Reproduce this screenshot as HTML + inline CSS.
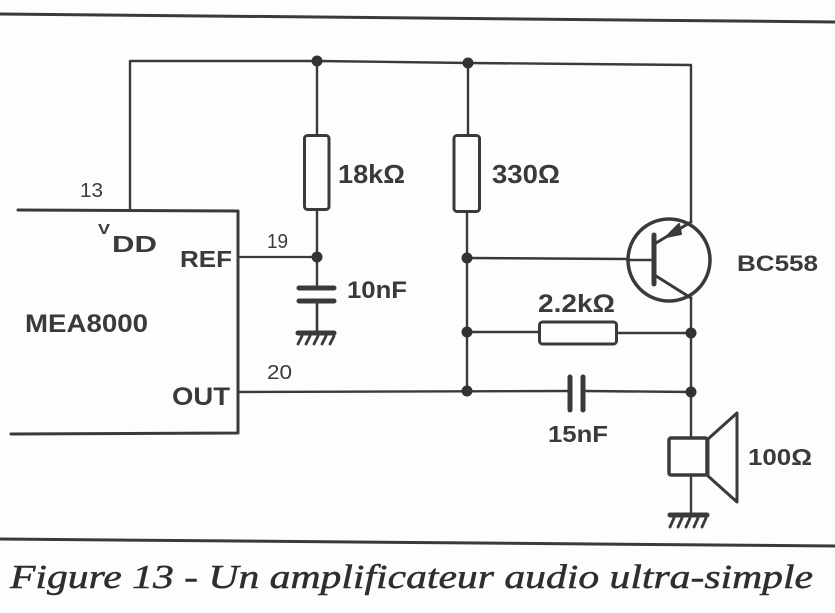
<!DOCTYPE html>
<html><head><meta charset="utf-8"><style>
html,body{margin:0;padding:0;background:#fdfdfc;}
svg{display:block;}
</style></head><body>
<svg width="835" height="613" viewBox="0 0 835 613" xmlns="http://www.w3.org/2000/svg">
<rect width="835" height="613" fill="#fdfdfc"/>
<g stroke="#3a3a3a" fill="none" stroke-linecap="round" stroke-linejoin="round">
<!-- borders -->
<line x1="0" y1="14" x2="835" y2="22" stroke-width="3"/>
<line x1="0" y1="539" x2="835" y2="546" stroke-width="3"/>
<!-- top rail -->
<polyline points="130,210 130,61 317,61 468,63 691,65 691,222" stroke-width="2.4"/>
<!-- IC -->
<polyline points="18,210 238,211 238,433 11,434" stroke-width="3"/>
<!-- 18k branch -->
<line x1="317" y1="61" x2="317" y2="135" stroke-width="2.4"/>
<rect x="304.5" y="135.5" width="24.5" height="74" rx="3" stroke-width="3"/>
<line x1="317" y1="210" x2="317" y2="288" stroke-width="2.4"/>
<line x1="238" y1="257" x2="317" y2="257" stroke-width="2.2"/>
<line x1="299" y1="288" x2="334" y2="288" stroke-width="5"/>
<line x1="299" y1="301" x2="334" y2="301" stroke-width="5"/>
<line x1="317" y1="301" x2="317" y2="333" stroke-width="2.6"/>
<line x1="298" y1="333" x2="334" y2="333" stroke-width="5"/>
<g stroke-width="2.8">
<line x1="302" y1="336" x2="298" y2="344"/><line x1="310" y1="336" x2="306" y2="344"/>
<line x1="318" y1="336" x2="314" y2="344"/><line x1="326" y1="336" x2="322" y2="344"/>
<line x1="334" y1="336" x2="330" y2="344"/>
</g>
<!-- 330 branch -->
<line x1="468" y1="63" x2="468" y2="135" stroke-width="2.4"/>
<rect x="454" y="135.5" width="25.5" height="76" rx="3" stroke-width="3"/>
<line x1="467" y1="212" x2="467" y2="391" stroke-width="2.4"/>
<line x1="467" y1="258" x2="628" y2="259" stroke-width="2.4"/>
<!-- transistor -->
<circle cx="669" cy="260" r="41" stroke-width="3.5"/>
<line x1="628" y1="260" x2="653" y2="260" stroke-width="2.5"/>
<line x1="654" y1="235" x2="654" y2="284" stroke-width="5"/>
<line x1="656" y1="243" x2="691" y2="222" stroke-width="3"/>
<line x1="656" y1="276" x2="691" y2="298" stroke-width="3"/>
<polygon points="666,237 679,224 681,234" fill="#3a3a3a" stroke-width="2"/>
<!-- right vertical -->
<line x1="691" y1="298" x2="691" y2="438" stroke-width="2.4"/>
<!-- 2.2k -->
<line x1="467" y1="332" x2="539" y2="332" stroke-width="2.4"/>
<rect x="539.5" y="322" width="77" height="22" rx="3" stroke-width="3"/>
<line x1="617" y1="333" x2="691" y2="333" stroke-width="2.4"/>
<!-- OUT line + 15nF -->
<line x1="238" y1="392" x2="570" y2="391" stroke-width="2.4"/>
<line x1="570" y1="377" x2="570" y2="410" stroke-width="5"/>
<line x1="583" y1="377" x2="583" y2="410" stroke-width="5"/>
<line x1="583" y1="391" x2="691" y2="392" stroke-width="2.4"/>
<!-- speaker -->
<rect x="669" y="438" width="38" height="37" rx="2" stroke-width="3.5"/>
<polygon points="708,439 737,413 737,502 708,476" stroke-width="3"/>
<line x1="691" y1="475" x2="691" y2="514" stroke-width="2.4"/>
<line x1="670" y1="515" x2="707" y2="515" stroke-width="5"/>
<g stroke-width="2.8">
<line x1="674" y1="518" x2="670" y2="527"/><line x1="682" y1="518" x2="678" y2="527"/>
<line x1="690" y1="518" x2="686" y2="527"/><line x1="698" y1="518" x2="694" y2="527"/>
<line x1="706" y1="518" x2="702" y2="527"/>
</g>
</g>
<!-- nodes -->
<g fill="#333">
<circle cx="317" cy="61" r="5.5"/>
<circle cx="468" cy="63" r="5.5"/>
<circle cx="317" cy="257" r="5.5"/>
<circle cx="467" cy="258" r="5.5"/>
<circle cx="467" cy="332" r="5.5"/>
<circle cx="691" cy="333" r="5.5"/>
<circle cx="467" cy="391" r="5.5"/>
<circle cx="691" cy="392" r="5.5"/>
</g>
<!-- labels -->
<g fill="#3a3a3a" font-family="'Liberation Sans', sans-serif">
<text x="80" y="197" font-size="20" textLength="23" lengthAdjust="spacingAndGlyphs">13</text>
<text x="267" y="248" font-size="20" textLength="21" lengthAdjust="spacingAndGlyphs">19</text>
<text x="267" y="379" font-size="20" textLength="25" lengthAdjust="spacingAndGlyphs">20</text>
<g font-weight="bold">
<text x="98" y="234" font-size="15" textLength="12" lengthAdjust="spacingAndGlyphs">V</text>
<text x="112" y="252" font-size="23" textLength="45" lengthAdjust="spacingAndGlyphs">DD</text>
<text x="180" y="267" font-size="23" textLength="52" lengthAdjust="spacingAndGlyphs">REF</text>
<text x="25" y="332" font-size="25" textLength="123" lengthAdjust="spacingAndGlyphs">MEA8000</text>
<text x="172" y="405" font-size="25" textLength="58" lengthAdjust="spacingAndGlyphs">OUT</text>
<text x="338" y="183" font-size="26" textLength="67" lengthAdjust="spacingAndGlyphs">18kΩ</text>
<text x="347" y="298" font-size="24" textLength="60" lengthAdjust="spacingAndGlyphs">10nF</text>
<text x="492" y="183" font-size="26" textLength="68" lengthAdjust="spacingAndGlyphs">330Ω</text>
<text x="737" y="271" font-size="22" textLength="81" lengthAdjust="spacingAndGlyphs">BC558</text>
<text x="538" y="312" font-size="25" textLength="77" lengthAdjust="spacingAndGlyphs">2.2kΩ</text>
<text x="548" y="442" font-size="23" textLength="60" lengthAdjust="spacingAndGlyphs">15nF</text>
<text x="748" y="465" font-size="23" textLength="64" lengthAdjust="spacingAndGlyphs">100Ω</text>
</g>
</g>
<text x="10" y="588" font-family="'Liberation Serif', serif" font-style="italic" font-size="34" fill="#2e2e2e" stroke="#2e2e2e" stroke-width="0.5" textLength="803" lengthAdjust="spacingAndGlyphs">Figure 13 - Un amplificateur audio ultra-simple</text>
</svg>
</body></html>
